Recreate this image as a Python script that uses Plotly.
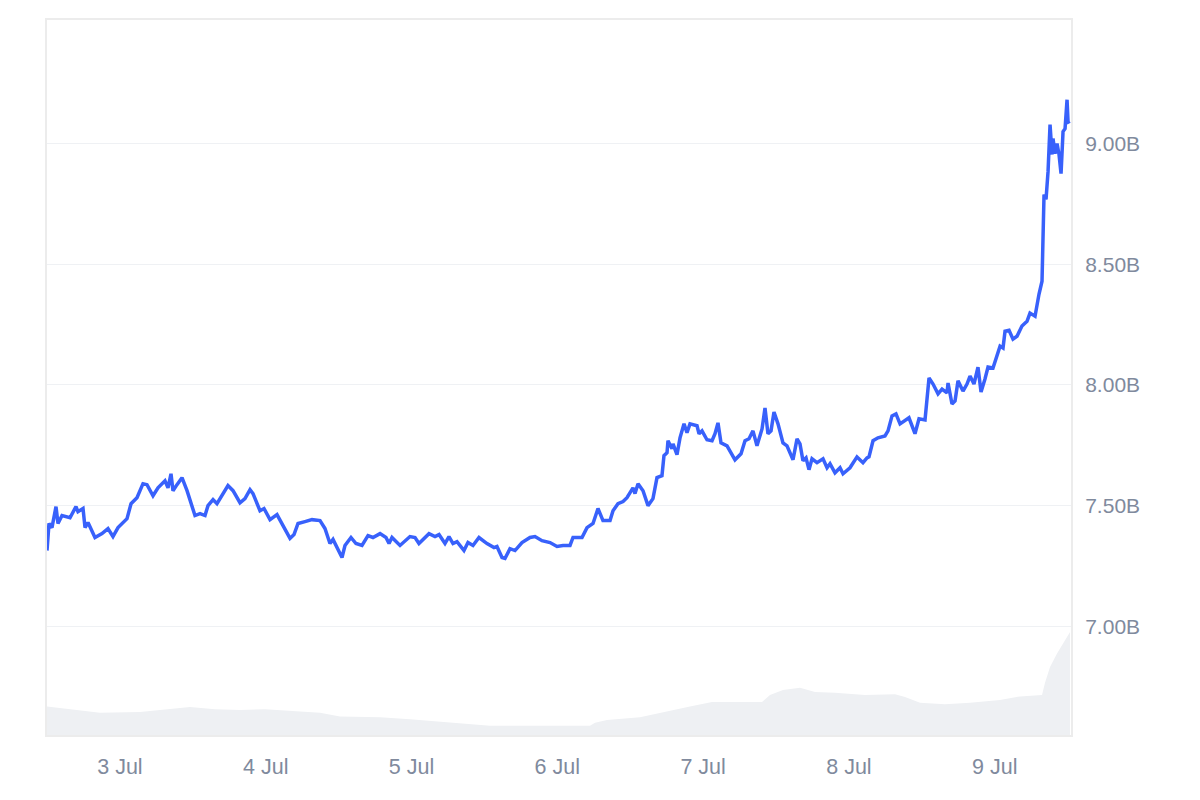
import pandas as pd
import plotly.graph_objects as go

# ---------------- data ----------------
start_time = "2024-07-02 12:00"

price_hours = [
    0, 0.33, 0.82, 1.48, 1.81, 2.47, 3.79, 4.77, 5.10, 5.93, 6.26, 6.75, 7.90, 9.05, 10.04, 10.86, 11.69,
    13.17, 13.83, 14.81, 15.80, 16.46, 17.45, 18.27, 19.42, 19.92, 20.41, 20.74, 21.40, 22.22, 23.05, 23.54,
    24.36, 25.19, 26.01, 26.50, 27.33, 27.98, 28.97, 29.79, 30.62, 31.77, 32.59, 33.42, 33.91, 35.06, 35.72,
    36.71, 37.86, 38.85, 40.00, 40.66, 41.32, 42.47, 43.62, 44.94, 45.76, 46.58, 47.08, 48.56, 49.05, 50.04,
    50.86, 51.85, 52.84, 53.66, 54.82, 55.80, 56.30, 56.79, 58.11, 59.75, 60.58, 61.23, 62.88, 63.87, 64.53,
    65.51, 66.17, 66.83, 67.49, 68.64, 69.30, 70.12, 71.11, 72.43, 73.58, 74.07, 74.90, 75.39, 76.21, 77.04,
    78.19, 79.51, 80.33, 81.48, 82.80, 83.95, 84.94, 86.09, 86.59, 88.07, 88.89, 89.88, 90.70, 91.52, 92.68,
    93.17, 93.99, 94.82, 95.47, 96.46, 96.79, 97.29, 98.11, 98.93, 99.75, 100.41, 101.23, 101.56, 102.06,
    102.22, 102.88, 103.05, 103.70, 104.20, 104.86, 105.35, 105.84, 107.00, 107.33, 107.82, 108.64, 109.47,
    109.96, 110.45, 110.95, 111.94, 113.25, 114.24, 114.90, 115.56, 116.21, 116.87, 117.70, 118.19, 118.68,
    119.18, 119.67, 120.33, 121.15, 121.81, 122.80, 123.46, 123.95, 124.44, 124.94, 125.43, 125.93, 126.75,
    127.74, 128.40, 128.89, 129.71, 130.54, 131.03, 132.18, 133.33, 134.32, 134.98, 135.31, 135.97, 136.79,
    137.94, 138.44, 139.10, 139.75, 140.42, 141.24, 141.89, 142.88, 143.54, 144.53, 145.19, 145.85, 146.67,
    147.33, 148.15, 148.32, 148.97, 149.47, 149.96, 150.78, 151.44, 151.94, 152.59, 153.25, 153.75, 154.40,
    154.90, 155.72, 156.38, 156.88, 157.37, 157.70, 158.36, 159.01, 159.67, 160.49, 161.32, 161.81, 162.64,
    162.97, 163.29, 163.79, 163.95, 164.12, 164.45, 164.78, 165.11, 165.44, 165.60, 165.93, 166.26, 166.59,
    166.92, 167.25, 167.58, 167.91, 168.07, 168.24,
]

price_billions = [
    7.314, 7.426, 7.409, 7.496, 7.426, 7.459, 7.450, 7.496, 7.475, 7.488, 7.409, 7.430, 7.368, 7.384, 7.405, 7.372, 7.409,
    7.446, 7.508, 7.533, 7.591, 7.587, 7.541, 7.574, 7.603, 7.574, 7.632, 7.562, 7.587, 7.616, 7.562, 7.521,
    7.459, 7.467, 7.459, 7.500, 7.525, 7.508, 7.550, 7.583, 7.562, 7.512, 7.529, 7.566, 7.550, 7.479, 7.488,
    7.442, 7.463, 7.417, 7.364, 7.380, 7.426, 7.434, 7.442, 7.438, 7.405, 7.343, 7.360, 7.285, 7.335, 7.368,
    7.343, 7.335, 7.376, 7.368, 7.384, 7.368, 7.343, 7.368, 7.335, 7.372, 7.368, 7.343, 7.384, 7.372, 7.380,
    7.343, 7.372, 7.343, 7.351, 7.314, 7.347, 7.335, 7.368, 7.343, 7.326, 7.331, 7.285, 7.281, 7.322, 7.314,
    7.347, 7.368, 7.372, 7.355, 7.347, 7.331, 7.335, 7.335, 7.368, 7.368, 7.409, 7.426, 7.488, 7.438, 7.438,
    7.479, 7.508, 7.517, 7.533, 7.574, 7.550, 7.591, 7.562, 7.500, 7.529, 7.616, 7.624, 7.707, 7.719,
    7.769, 7.736, 7.756, 7.711, 7.781, 7.839, 7.802, 7.839, 7.831, 7.798, 7.810, 7.773, 7.769,
    7.798, 7.843, 7.760, 7.748, 7.690, 7.715, 7.769, 7.777, 7.810, 7.748, 7.818, 7.905, 7.798,
    7.810, 7.888, 7.839, 7.760, 7.748, 7.690, 7.777, 7.756, 7.686, 7.698, 7.649, 7.694, 7.678,
    7.694, 7.657, 7.674, 7.636, 7.657, 7.632, 7.657, 7.702, 7.678, 7.698, 7.702, 7.769, 7.781,
    7.789, 7.810, 7.872, 7.880, 7.839, 7.851, 7.864, 7.798, 7.860, 7.855, 8.029, 8.004, 7.963,
    7.983, 7.967, 8.008, 7.921, 7.934, 8.017, 7.975, 8.004, 8.037, 8.004, 8.074, 7.971, 8.025,
    8.074, 8.070, 8.128, 8.161, 8.153, 8.223, 8.227, 8.190, 8.202, 8.244, 8.264, 8.298, 8.285,
    8.335, 8.376, 8.430, 8.636, 8.789, 8.769, 8.884, 9.079, 8.955, 9.021, 8.959, 9.000, 8.955,
    8.876, 9.050, 9.062, 9.182, 9.091, 9.083,
]

volume_hours = [
    0, 0.99, 4.61, 8.72, 15.31, 19.42, 23.54, 27.65, 31.77, 35.89, 41.65, 44.94, 48.23, 54.82, 59.75,
    66.34, 72.92, 81.15, 89.38, 90.21, 92.18, 97.61, 100.91, 102.55, 105.84, 109.47, 114.90, 117.70,
    119.01, 121.15, 123.95, 126.42, 129.71, 134.65, 139.59, 141.24, 143.71, 147.82, 151.94, 156.87,
    160.17, 163.79, 164.28, 165.11, 166.26, 167.57, 168.40,
]
volume_values = [
    0.40, 0.39, 0.35, 0.31, 0.32, 0.36, 0.39, 0.36, 0.35, 0.36, 0.33, 0.31, 0.26, 0.25, 0.22,
    0.17, 0.13, 0.13, 0.13, 0.17, 0.21, 0.25, 0.31, 0.35, 0.40, 0.46, 0.46, 0.46,
    0.56, 0.63, 0.66, 0.60, 0.59, 0.56, 0.57, 0.53, 0.45, 0.43, 0.45, 0.49,
    0.54, 0.56, 0.73, 0.95, 1.14, 1.32, 1.44,
]

price_tick_values = [7.0, 7.5, 8.0, 8.5, 9.0]
price_tick_labels = ["7.00B", "7.50B", "8.00B", "8.50B", "9.00B"]

# ---------------- figure ----------------
t0 = pd.Timestamp(start_time)
price_times = [t0 + pd.Timedelta(hours=h) for h in price_hours]
volume_times = [t0 + pd.Timedelta(hours=h) for h in volume_hours]
x_end = t0 + pd.Timedelta(hours=168.56)

fig = go.Figure()
fig.add_trace(go.Scatter(
    x=volume_times, y=volume_values, mode="lines", fill="tozeroy",
    line=dict(width=0, color="#eef0f3"), fillcolor="#eef0f3",
    yaxis="y", hoverinfo="skip", showlegend=False,
))
fig.add_trace(go.Scatter(
    x=price_times, y=price_billions, mode="lines",
    line=dict(width=3.5, color="#3861fb"),
    yaxis="y2", showlegend=False,
))

font_family = "Liberation Sans, Arial, Helvetica, sans-serif"
label_color = "#808a9d"

fig.update_layout(
    width=1200, height=800,
    margin=dict(l=39, r=137, t=10, b=73),
    paper_bgcolor="white", plot_bgcolor="white",
    font=dict(family=font_family, size=21, color=label_color),
    xaxis=dict(
        type="date", range=[t0, x_end],
        tick0="2024-07-03", dtick=86400000, tickformat="%-d %b",
        showgrid=False, zeroline=False,
        showline=True, linecolor="#ececec", linewidth=2, mirror=True,
        ticks="outside", ticklen=11, tickcolor="rgba(0,0,0,0)",
        tickfont=dict(size=21.5, color=label_color),
    ),
    yaxis=dict(
        range=[0, 10], visible=False, fixedrange=True,
    ),
    yaxis2=dict(
        overlaying="y", side="right",
        range=[6.5496, 9.5124],
        tickvals=price_tick_values, ticktext=price_tick_labels,
        showgrid=True, gridcolor="#eff1f4", gridwidth=1,
        zeroline=False,
        showline=True, linecolor="#ececec", linewidth=2, mirror=True,
        ticks="outside", ticklen=8, tickcolor="rgba(0,0,0,0)",
        tickfont=dict(size=21, color=label_color),
    ),
)

fig.write_html("out.html")
